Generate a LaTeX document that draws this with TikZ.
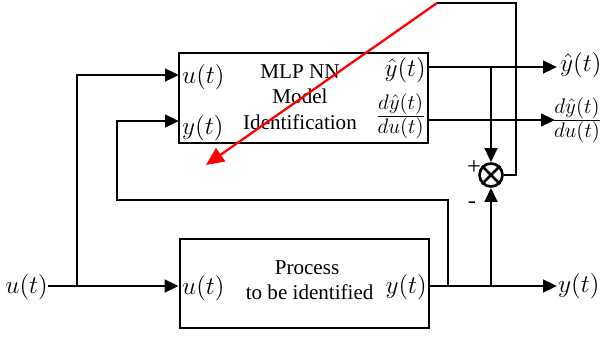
\documentclass[tikz,border=0pt]{standalone}
\usepackage{amsmath}
\usepackage{fontspec}
\setmainfont{Liberation Serif}
\usetikzlibrary{arrows.meta,positioning}
\definecolor{adaptRed}{RGB}{255,0,0}
\tikzset{
  blk/.style={draw,line width=1.5pt,minimum width=4.98cm,inner sep=0pt},
  sig/.style={-{Triangle[length=0.28cm,width=0.25cm]},line width=1.6pt},
  wire/.style={line width=1.6pt},
  adapt/.style={-{Triangle[length=0.36cm,width=0.32cm]},line width=1.3pt,adaptRed},
  lbl/.style={inner sep=0pt,font=\fontsize{12}{14.5}\selectfont},
  mth/.style={inner sep=0.5pt,font=\fontsize{13.5}{15}\selectfont},
  frc/.style={inner sep=0.5pt,font=\fontsize{12.5}{14}\selectfont},
  sgn/.style={inner sep=0pt,font=\fontsize{14}{15}\selectfont},
}
\newcommand{\dydu}{$\frac{\displaystyle d\hat{y}(t)}{\displaystyle du(t)}$}

\begin{document}
\begin{tikzpicture}[x=0.02cm,y=-0.02cm]
  \useasboundingbox (0,0) rectangle (603,336);
  % blocks
  \node[blk,minimum height=1.8cm]  (mlp)  at (303.5,98) {};
  \node[blk,minimum height=1.78cm] (proc) at (304.5,283.5) {};
  \node[lbl,align=center] (mlptxt) at (300,97) {MLP NN\\Model\\Identification};
  \node[lbl,align=center] (proctxt) at (307,280) {Process\\ \ to be identified};
  % ports
  \node[mth,anchor=west] (mu)  at (181,77)  {$u(t)$};
  \node[mth,anchor=west] (my)  at (181,128) {$y(t)$};
  \node[mth,anchor=east] (myh) at (427,70)  {$\hat{y}(t)$};
  \node[frc,anchor=east] (mdy) at (427,116) {\dydu};
  \node[mth,anchor=west] (pu)  at (181,288) {$u(t)$};
  \node[mth,anchor=east] (py)  at (428,287) {$y(t)$};
  % summer
  \node[circle,draw,line width=1.5pt,minimum size=0.46cm,inner sep=0pt] (sum) at (491,175) {};
  \draw[line width=1.5pt] (sum.north east) -- (sum.south west) (sum.north west) -- (sum.south east);
  \node[sgn] (plus)  at (474,168) {+};
  \node[sgn] (minus) at (472,205) {-};
  % outer labels
  \node[mth,anchor=east] (uin)  at (49,287)  {$u(t)$};
  \node[mth,anchor=west] (yhat) at (559,65)  {$\hat{y}(t)$};
  \node[frc] (dydu) at (577,120) {\dydu};
  \node[mth,anchor=west] (yout) at (557,286) {$y(t)$};
  % points
  \coordinate (mu0) at (179,75);
  \coordinate (my0) at (179,121);
  \coordinate (bu)  at (77,286);
  \coordinate (o1)  at (428,67);
  \coordinate (o2)  at (428,120);
  \coordinate (po)  at (429,286);
  \coordinate (fb)  at (448,286);
  \coordinate (fbc) at (117,200);
  \coordinate (bs)  at (491,286);
  \coordinate (bh)  at (491,67);
  \coordinate (ec)  at (516,3);
  \coordinate (ad)  at (437,3);
  \coordinate (adt) at (206,165);
  % connectors
  \draw[sig] (48,286) -- (48,286 -| proc.west);
  \draw[sig] (bu) |- (mu0);
  \draw[sig] (o1) -- (557,67);
  \draw[sig] (o2) -- (555,120);
  \draw[sig] (po) -- (557,286);
  \draw[sig] (fb) |- (fbc) |- (my0);
  \draw[sig] (bh) -- (sum.north);
  \draw[sig] (bs) -- (sum.south);
  \draw[wire] (sum.east) -| (ec) -- (ad);
  \draw[adapt] (ad) -- (adt);
\end{tikzpicture}
\end{document}
